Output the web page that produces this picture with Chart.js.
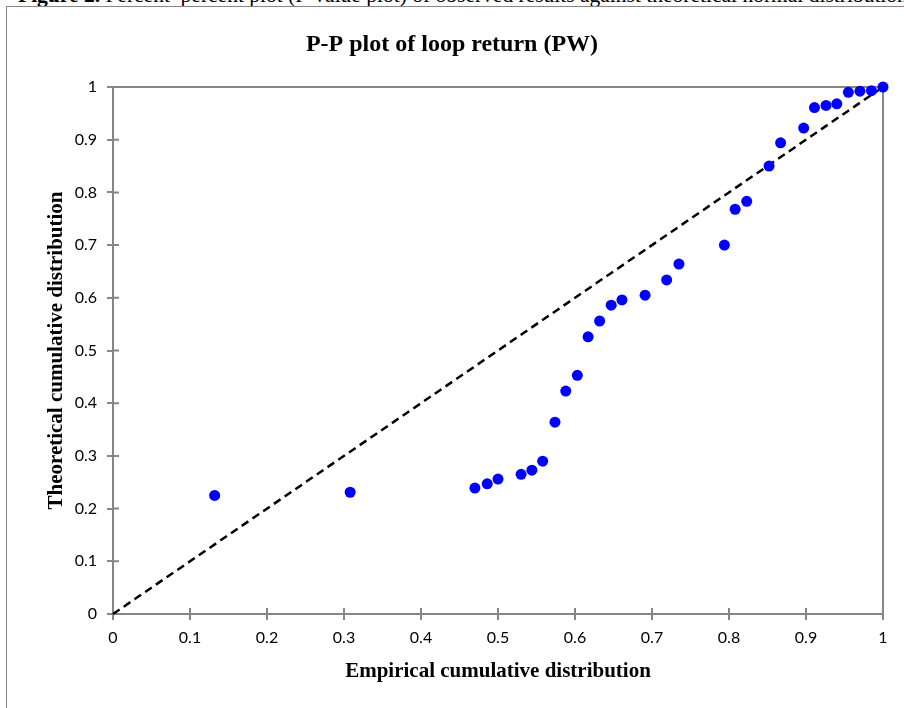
<!DOCTYPE html>
<html><head><meta charset="utf-8">
<script src="https://cdn.jsdelivr.net/npm/chart.js@4/dist/chart.umd.min.js"></script>
<style>
html,body{margin:0;padding:0;background:#fff;width:904px;height:708px;overflow:hidden;position:relative}
#cap{position:absolute;left:18px;top:-15px;font:21.5px "Liberation Serif",serif;white-space:nowrap;line-height:1;color:#000}
#frame{position:absolute;left:6px;top:6px;width:1000px;height:800px;border:1.5px solid #868686;box-sizing:border-box}
#wrap{position:absolute;left:0;top:0;width:904px;height:708px}
</style></head><body>
<div id="cap"><b>Figure 2.</b> Percent–percent plot (P-value plot) of observed results against theoretical normal distribution</div>
<div id="frame"></div>
<div id="wrap"><canvas id="c" width="904" height="708"></canvas></div>
<script>
const chartTitle = 'P-P plot of loop return (PW)';
const xAxisTitle = 'Empirical cumulative distribution';
const yAxisTitle = 'Theoretical cumulative distribution';
const empirical = [0.132,0.308,0.470,0.486,0.500,0.530,0.544,0.558,0.574,0.588,0.603,0.617,0.632,0.647,0.661,0.691,0.719,0.735,0.794,0.808,0.823,0.852,0.867,0.897,0.911,0.926,0.940,0.955,0.970,0.985,1.000];
const theoretical = [0.225,0.231,0.239,0.247,0.256,0.265,0.273,0.290,0.364,0.423,0.453,0.526,0.556,0.586,0.596,0.605,0.634,0.664,0.700,0.768,0.783,0.850,0.894,0.922,0.961,0.965,0.968,0.990,0.992,0.993,1.000];
const refLineX = [0, 1];
const refLineY = [0, 1];
const axisMin = 0, axisMax = 1, tickStep = 0.1;

const axisColor = '#868686';
const tickFont = {family: 'Lato', size: 16};

const crossTicks = {
  id: 'crossTicks',
  beforeDatasetsDraw(chart) {
    const {ctx, chartArea: a, scales: {x, y}} = chart;
    ctx.save();
    ctx.strokeStyle = axisColor;
    ctx.lineWidth = 2;
    ctx.beginPath();
    ctx.moveTo(a.left, a.top); ctx.lineTo(a.right, a.top); ctx.lineTo(a.right, a.bottom);
    ctx.stroke();
    ctx.beginPath();
    x.ticks.forEach(t => { const p = x.getPixelForValue(t.value); ctx.moveTo(p, a.bottom); ctx.lineTo(p, a.bottom - 6); });
    y.ticks.forEach(t => { const p = y.getPixelForValue(t.value); ctx.moveTo(a.left, p); ctx.lineTo(a.left + 6, p); });
    ctx.stroke();
    ctx.restore();
  }
};

new Chart(document.getElementById('c'), {
  type: 'scatter',
  data: {
    datasets: [
      {
        data: empirical.map((v, i) => ({x: v, y: theoretical[i]})),
        backgroundColor: '#0000FF', borderWidth: 0, pointRadius: 5.5, clip: false
      },
      {
        data: refLineX.map((v, i) => ({x: v, y: refLineY[i]})),
        showLine: true, borderColor: '#000', borderWidth: 2.5, borderDash: [8, 5], pointRadius: 0, clip: false
      }
    ]
  },
  options: {
    responsive: false, animation: false,
    layout: {padding: {left: 21, right: 21, top: 0, bottom: 0}},
    plugins: {
      legend: {display: false}, tooltip: {enabled: false},
      title: {display: true, text: chartTitle, color: '#000',
        font: {family: 'Liberation Serif', size: 24, weight: 'bold'}, padding: {top: 30.6, bottom: 27.6}}
    },
    scales: {
      x: {
        type: 'linear', min: axisMin, max: axisMax,
        ticks: {stepSize: tickStep, font: tickFont, color: '#000', padding: 8, callback: v => String(+v.toFixed(1))},
        grid: {drawOnChartArea: false, drawTicks: true, tickLength: 6, color: axisColor, lineWidth: 2},
        border: {color: axisColor, width: 2},
        title: {display: true, text: xAxisTitle, color: '#000', font: {family: 'Liberation Serif', size: 21, weight: 'bold'}, padding: {top: 0, bottom: 23.4}},
        afterFit(s) { s.height = 94; }
      },
      y: {
        type: 'linear', min: axisMin, max: axisMax,
        ticks: {stepSize: tickStep, font: tickFont, color: '#000', padding: 10, callback: v => String(+v.toFixed(1))},
        grid: {drawOnChartArea: false, drawTicks: true, tickLength: 6, color: axisColor, lineWidth: 2},
        border: {color: axisColor, width: 2},
        title: {display: true, text: yAxisTitle, color: '#000', font: {family: 'Liberation Serif', size: 21, weight: 'bold'}, padding: {top: 23.4, bottom: 0}},
        afterFit(s) { s.width = 92; }
      }
    }
  },
  plugins: [crossTicks]
});
</script>
</body></html>
